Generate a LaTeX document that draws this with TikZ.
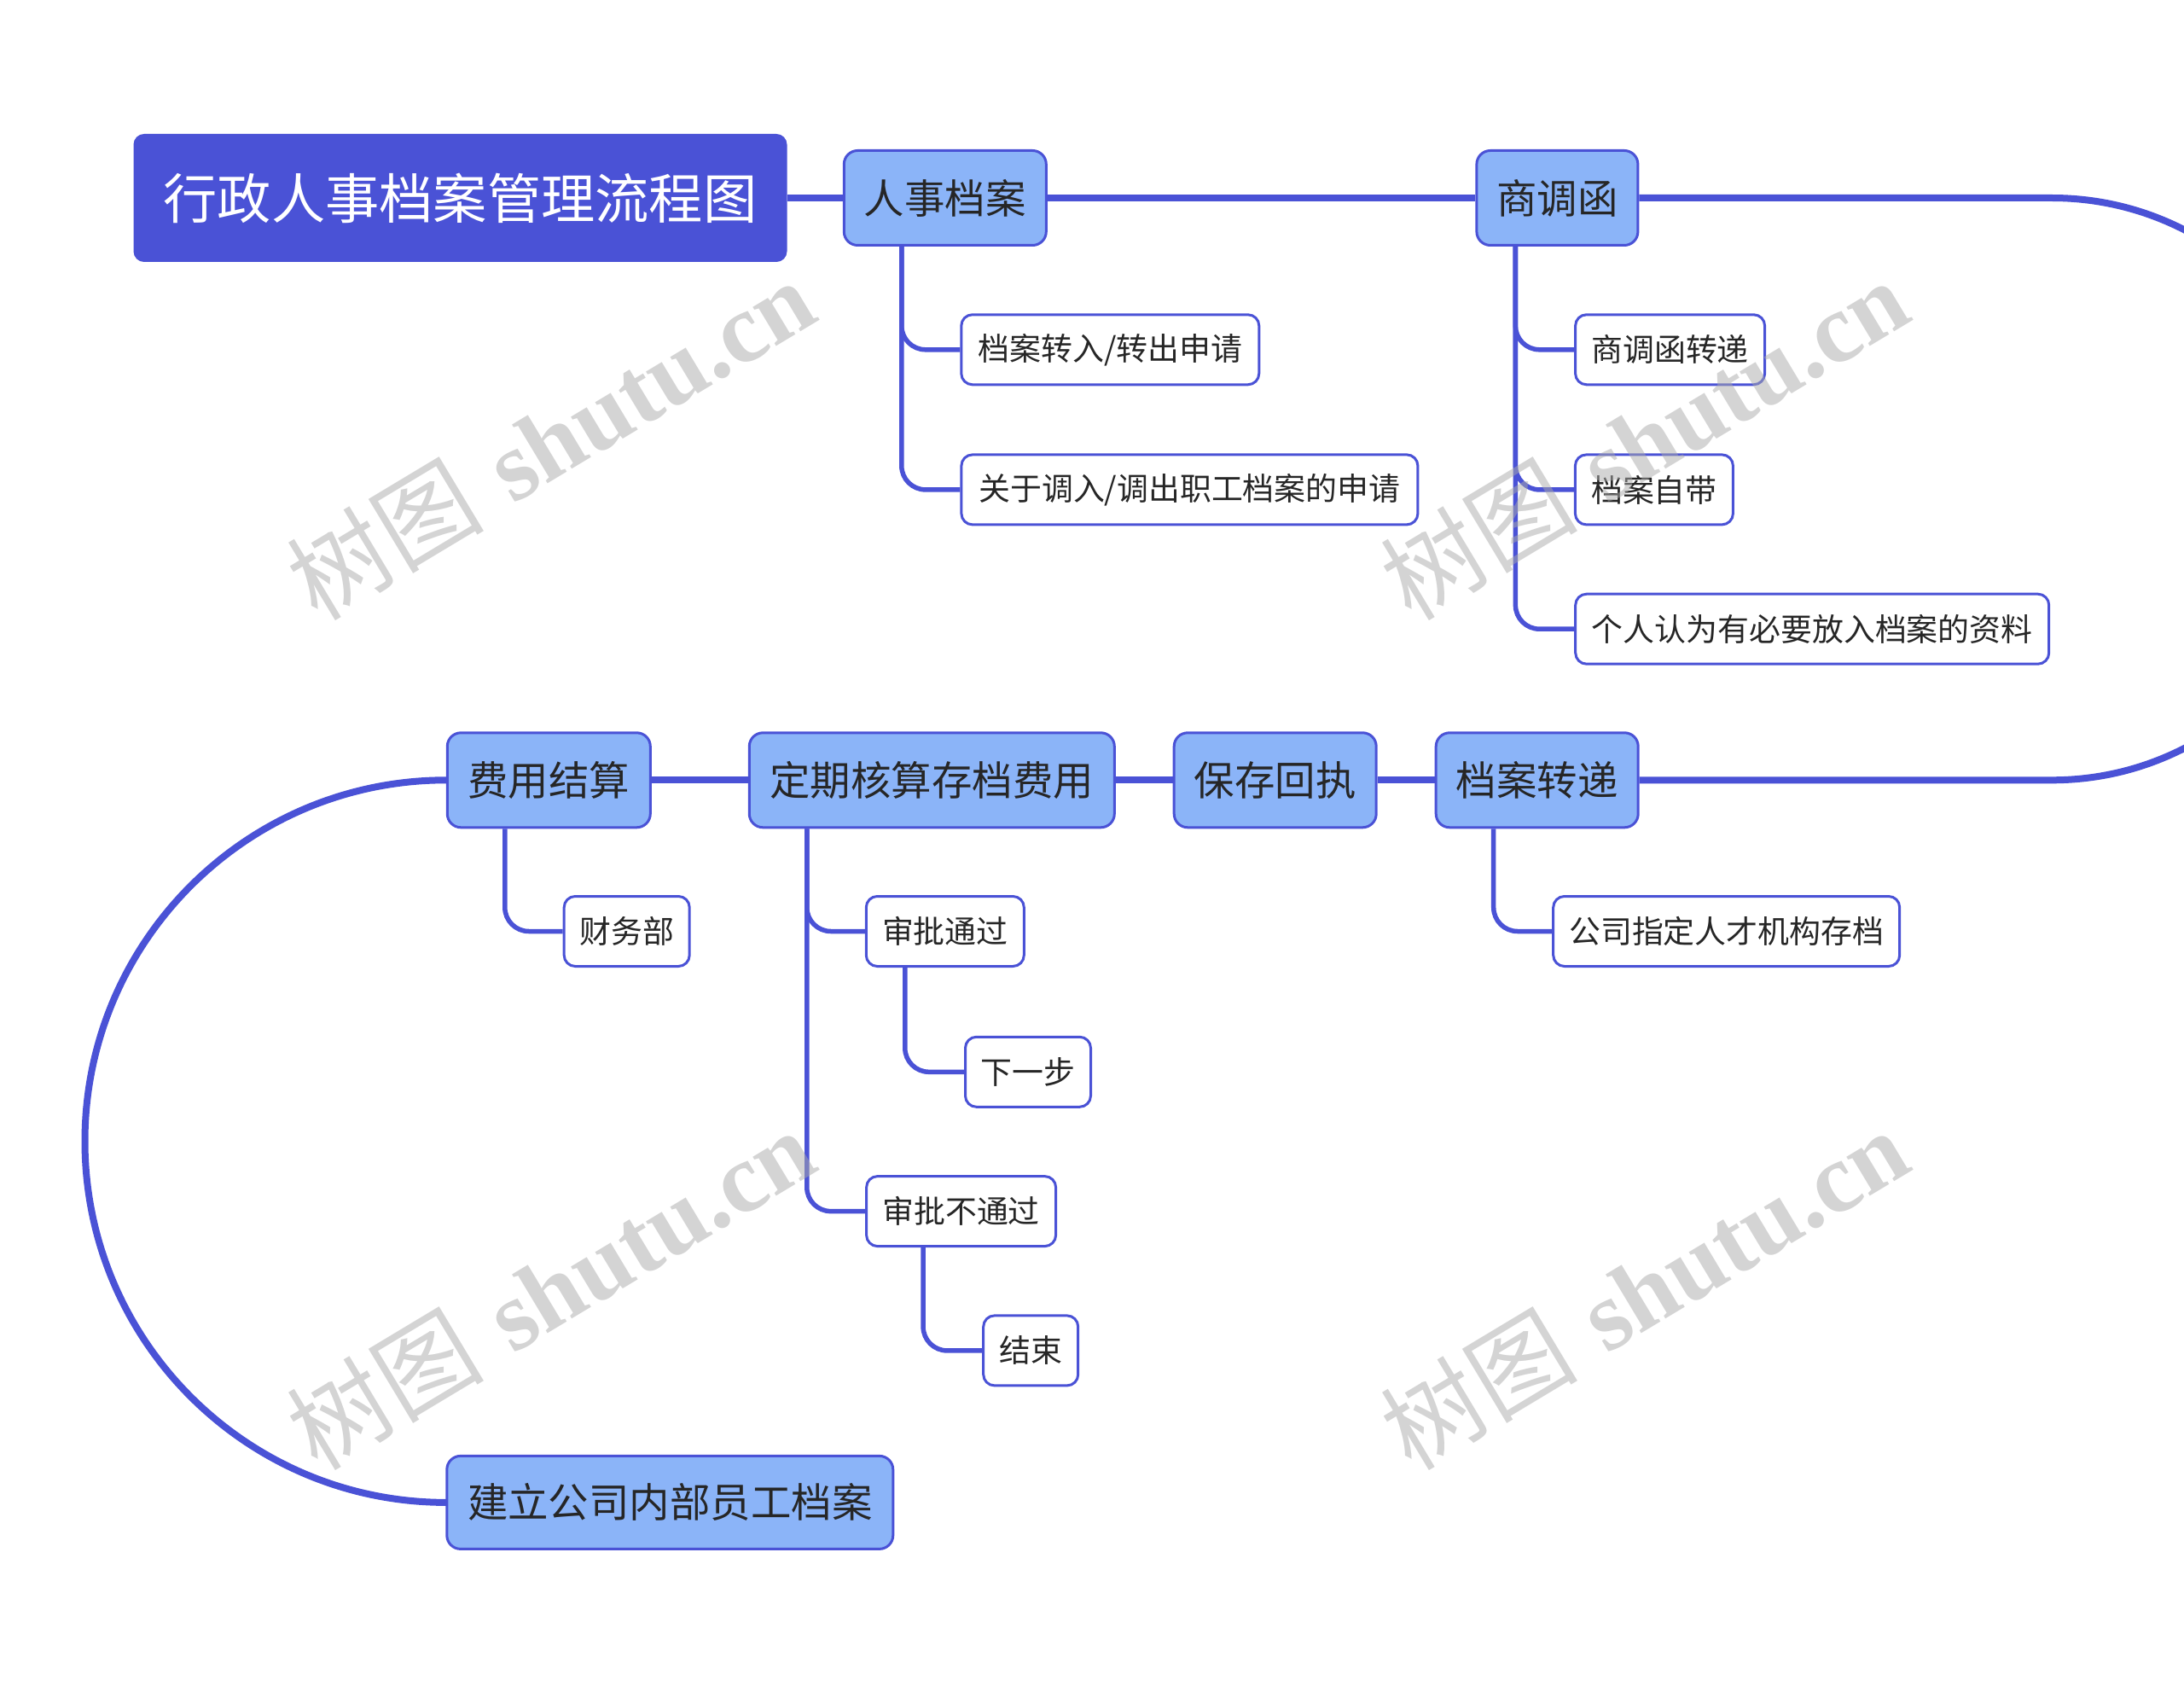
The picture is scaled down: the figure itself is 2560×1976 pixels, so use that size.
\documentclass[tikz,border=0pt]{standalone}
\usepackage{fontspec}
\newfontfamily\cjk{Noto Sans CJK SC}
\newfontfamily\wmlat{Liberation Serif}
\usetikzlibrary{calc}
\definecolor{mainblue}{RGB}{74,82,214}
\definecolor{lvlfill}{RGB}{139,180,248}
\definecolor{txt}{RGB}{38,38,38}
\definecolor{wmgray}{RGB}{170,170,170}
\pgfdeclarelayer{bg}
\pgfsetlayers{bg,main}
\begin{document}
\begin{tikzpicture}[x=0.1mm,y=-0.1mm,
 rootbox/.style={draw=mainblue, fill=mainblue, line width=0.3mm, rounded corners=1.1mm, text=white, inner sep=0pt, font=\cjk\fontsize{18pt}{20pt}\selectfont, minimum height=14.7mm},
 topicbox/.style={draw=mainblue, fill=lvlfill, line width=0.3mm, rounded corners=1.6mm, text=txt, inner sep=0pt, font=\cjk\fontsize{13.5pt}{15pt}\selectfont, minimum height=11.1mm},
 leafbox/.style={draw=mainblue, fill=white, line width=0.3mm, rounded corners=1.3mm, text=txt, inner sep=0pt, font=\cjk\fontsize{10.5pt}{12pt}\selectfont, minimum height=8.2mm},
 mainline/.style={draw=mainblue, line width=0.8mm},
 subline/.style={draw=mainblue, line width=0.55mm, rounded corners=2.8mm},
 wmark/.style={text=wmgray, opacity=0.5, rotate=31, inner sep=0pt, font=\fontsize{33pt}{35pt}\selectfont}
]
\useasboundingbox (0,0) rectangle (2560,1976);

% main nodes
\node[rootbox, minimum width=76.3mm] (root) at (539.5,232) {行政人事档案管理流程图};
\node[topicbox, minimum width=23.7mm] (rs) at (1107.8,232) {人事档案};
\node[topicbox, minimum width=18.9mm] (sdh) at (1825.4,232) {商调函};
\node[topicbox, minimum width=23.7mm] (dazd) at (1801.7,914.3) {档案转递};
\node[topicbox, minimum width=23.7mm] (bchz) at (1494.7,914.3) {保存回执};
\node[topicbox, minimum width=42.8mm] (dqhs) at (1092.3,914.3) {定期核算存档费用};
\node[topicbox, minimum width=23.8mm] (fyjs) at (643.3,914.3) {费用结算};
\node[topicbox, minimum width=52.3mm, minimum height=10.9mm] (jl) at (785.3,1760.9) {建立公司内部员工档案};

% leaves
\node[leafbox, minimum width=34.9mm] (a1) at (1301.3,409.8) {档案转入/转出申请};
\node[leafbox, minimum width=53.5mm] (a2) at (1394.4,573.9) {关于调入/调出职工档案的申请};
\node[leafbox, minimum width=22.2mm] (b1) at (1957.6,409.8) {商调函转递};
\node[leafbox, minimum width=18.5mm] (b2) at (1938.9,573.9) {档案自带};
\node[leafbox, minimum width=55.5mm] (b3) at (2124.2,737.2) {个人认为有必要放入档案的资料};
\node[leafbox, minimum width=40.6mm] (c1) at (2023.7,1091.5) {公司指定人才机构存档};
\node[leafbox, minimum width=14.7mm] (d1) at (734.7,1091.5) {财务部};
\node[leafbox, minimum width=18.5mm] (e1) at (1107.8,1091.5) {审批通过};
\node[leafbox, minimum width=14.7mm] (e1a) at (1205,1256.3) {下一步};
\node[leafbox, minimum width=22.2mm] (e2) at (1126.6,1419.6) {审批不通过};
\node[leafbox, minimum width=11.1mm] (e2a) at (1208.2,1582.9) {结束};

\begin{pgfonlayer}{bg}
\begin{scope}
\clip (0,0) rectangle (2560,1976);
\fill[white] (0,0) rectangle (2560,1976);
% main flow
\draw[mainline] (root.east) -- (rs.west);
\draw[mainline] (rs.east) -- (sdh.west);
\draw[mainline] (sdh.east) -- (2405,232) arc[start angle=-90, end angle=90, radius=341.15] -- (dazd.east);
\draw[mainline] (dazd.west) -- (bchz.east);
\draw[mainline] (bchz.west) -- (dqhs.east);
\draw[mainline] (dqhs.west) -- (fyjs.east);
\draw[mainline] (fyjs.west) arc[start angle=270, end angle=90, radius=423.3] -- (jl.west);

% branches
\draw[subline] ($(rs.south west)+(69,0)$) |- (a1.west);
\draw[subline] ($(rs.south west)+(69,0)$) |- (a2.west);
\draw[subline] ($(sdh.south west)+(47,0)$) |- (b1.west);
\draw[subline] ($(sdh.south west)+(47,0)$) |- (b2.west);
\draw[subline] ($(sdh.south west)+(47,0)$) |- (b3.west);
\draw[subline] ($(dazd.south west)+(69,0)$) |- (c1.west);
\draw[subline] ($(fyjs.south west)+(69,0)$) |- (d1.west);
\draw[subline] ($(dqhs.south west)+(69,0)$) |- (e1.west);
\draw[subline] ($(dqhs.south west)+(69,0)$) |- (e2.west);
\draw[subline] ($(e1.south west)+(47,0)$) |- (e1a.west);
\draw[subline] ($(e2.south west)+(68,0)$) |- (e2a.west);
\end{scope}
\end{pgfonlayer}

% watermarks
\node[wmark] (wm1) at (645,514) {{\cjk 树图} {\wmlat\bfseries shutu.cn}};
\node[wmark] (wm2) at (1927,514) {{\cjk 树图} {\wmlat\bfseries shutu.cn}};
\node[wmark] (wm3) at (645,1510) {{\cjk 树图} {\wmlat\bfseries shutu.cn}};
\node[wmark] (wm4) at (1927,1510) {{\cjk 树图} {\wmlat\bfseries shutu.cn}};
\end{tikzpicture}
\end{document}
